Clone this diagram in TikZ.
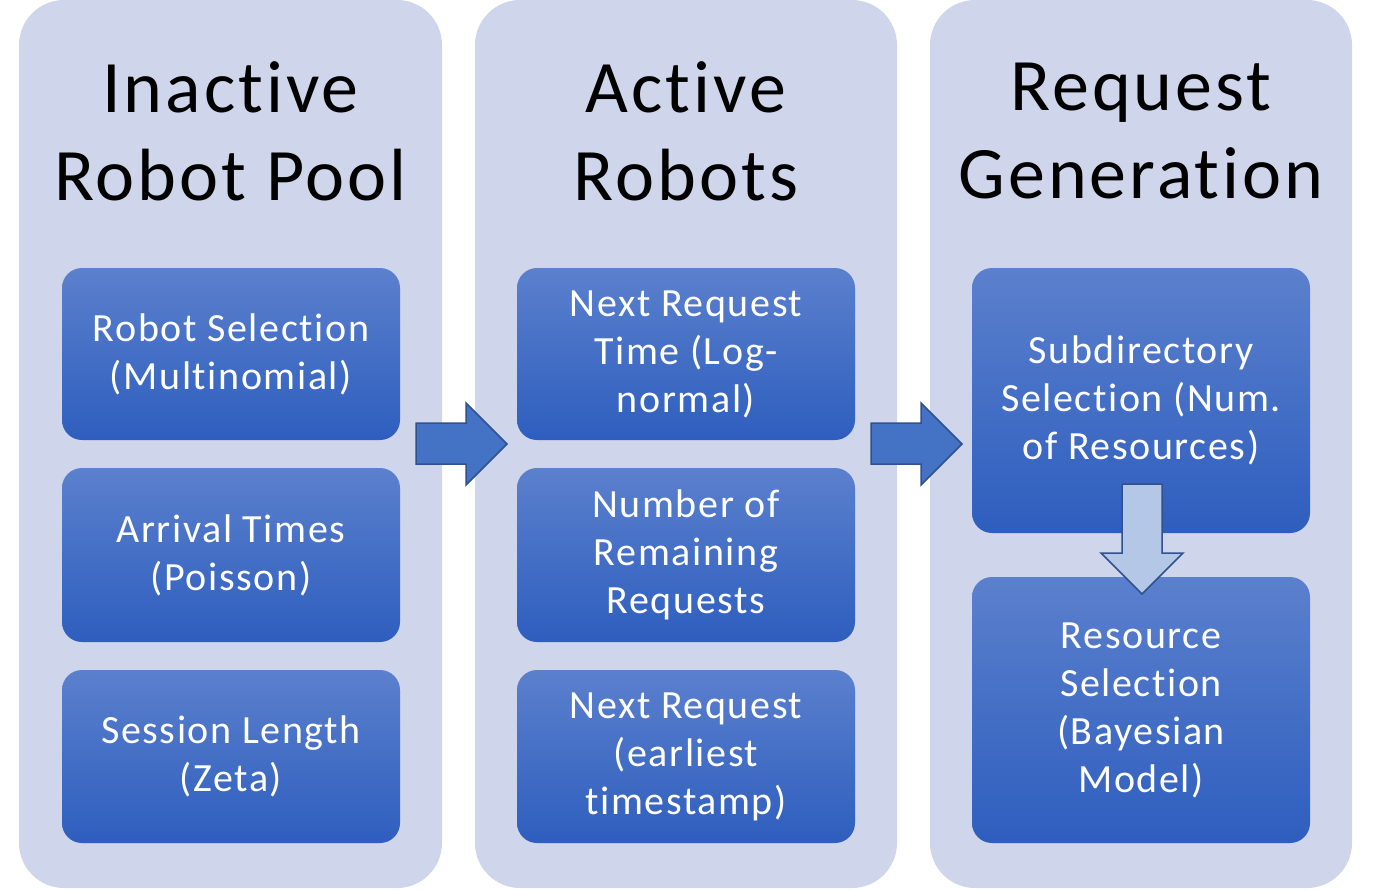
\documentclass[tikz,border=0pt]{standalone}
\usepackage{fontspec}
\setmainfont{Carlito}[LetterSpace=4,Ligatures=NoCommon]
\usetikzlibrary{positioning}
\definecolor{PoolLavender}{HTML}{CFD5EA}
\definecolor{PoolBlueTop}{HTML}{5B80CD}
\definecolor{PoolBlueBottom}{HTML}{2E5EBE}
\definecolor{PoolArrow}{HTML}{4472C4}
\definecolor{PoolArrowEdge}{HTML}{2F528F}
\definecolor{PoolPale}{HTML}{B4C7E7}
\tikzset{
  column/.style={fill=PoolLavender,rounded corners=45pt},
  title/.style={align=center,font=\fontsize{74}{88}\selectfont},
  stagebox/.style={rounded corners=20pt,top color=PoolBlueTop,bottom color=PoolBlueBottom,
    draw=none,text=white,align=center,minimum width=338pt,inner sep=0pt,
    font=\fontsize{40}{48}\selectfont},
  blockarrow/.style={fill=PoolArrow,draw=PoolArrowEdge,line width=1.5pt,line join=miter},
}

\begin{document}
\begin{tikzpicture}[x=1pt,y=-1pt]
  \useasboundingbox (0,0) rectangle (1376,889);

  % column backgrounds
  \fill[column] (19,0) rectangle (442,888);
  \fill[column] (475,0) rectangle (897,888);
  \fill[column] (930,0) rectangle (1352,888);

  % titles
  \node[title] (pooltitle) at (230.5,131) {Inactive\\Robot Pool};
  \node[title] (activetitle) at (686,131) {Active\\Robots};
  \node[title] (reqtitle) at (1141,131) {Request\\Generation};

  % inactive pool
  \node[stagebox,minimum height=172pt] (robotsel) at (231,354) {Robot Selection\\(Multinomial)};
  \node[stagebox,minimum height=174pt] (arrival) at (231,555) {Arrival Times\\(Poisson)};
  \node[stagebox,minimum height=173pt] (session) at (231,756.5) {Session Length\\(Zeta)};

  % active robots
  \node[stagebox,minimum height=172pt] (nexttime) at (686,354) {Next Request\\Time (Log-\\normal)};
  \node[stagebox,minimum height=174pt] (remaining) at (686,555) {Number of\\Remaining\\Requests};
  \node[stagebox,minimum height=173pt] (nextreq) at (686,756.5) {Next Request\\(earliest\\timestamp)};

  % request generation
  \node[stagebox,minimum height=265pt] (subdir) at (1141,400.5) {Subdirectory\\Selection (Num.\\of Resources)};
  \node[stagebox,minimum height=266pt] (resource) at (1141,710) {Resource\\Selection\\(Bayesian\\Model)};

  % block arrows between columns
  \foreach \dx in {0,455}{
    \draw[blockarrow] (416+\dx,423) -- (466+\dx,423) -- (466+\dx,403) -- (507+\dx,444)
      -- (466+\dx,485) -- (466+\dx,464) -- (416+\dx,464) -- cycle;
  }

  % down arrow
  \draw[blockarrow,fill=PoolPale] (1122,484) -- (1162,484) -- (1162,553) -- (1183,553)
    -- (1142,594) -- (1101,553) -- (1122,553) -- cycle;
\end{tikzpicture}
\end{document}
